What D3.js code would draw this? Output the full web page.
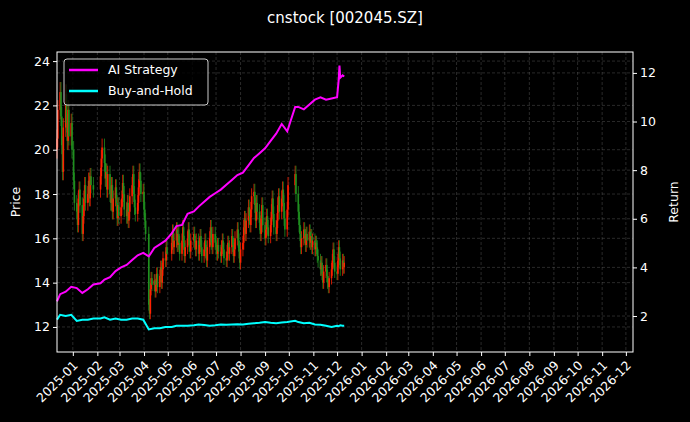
<!DOCTYPE html>
<html><head><meta charset="utf-8">
<script src="https://cdn.jsdelivr.net/npm/d3@7"></script>
<style>body{margin:0;background:#000}svg{display:block}text{font-family:"DejaVu Sans",sans-serif;fill:#fff}</style>
</head><body><svg id="c" width="690" height="422"></svg>
<script>
const title = "cnstock [002045.SZ]";
const startDate = "2024-12-12", endDate = "2025-12-10";
const holidays = ["2025-01-01","2025-01-28","2025-01-29","2025-01-30","2025-01-31","2025-02-03","2025-02-04","2025-04-04","2025-05-01","2025-05-02","2025-05-05","2025-06-02","2025-10-01","2025-10-02","2025-10-03","2025-10-06","2025-10-07","2025-10-08"];
const closes = [
20.5,21.8,
22.6,21.5,20.2,19.0,21.0, 22.5,21.2,20.4,21.8,20.6, 21.2,20.0,18.6,17.6,
17.2,16.6,17.8,18.2,17.5, 16.2,17.0,17.8,18.4,17.6, 18.0,18.6,17.8,18.8,18.4, 18.2,
18.8,19.6,20.1, 19.4,18.7,19.0,18.2,18.9, 18.0,17.6,18.4,17.2,17.8, 18.3,17.6,16.9,17.5,17.0,
17.4,17.8,18.5,18.0,17.3, 17.0,17.6,16.8,17.2,17.9, 18.4,18.9,18.0,17.4,17.1, 17.6,18.3,19.0,18.6,18.0,
18.1,17.3,16.8,16.2, 13.0,12.6,13.7,14.2,13.9, 14.1,13.6,13.9,14.4,13.8, 14.3,14.7,14.0,14.6,15.1, 15.0,15.6,15.3,
15.8,16.3,15.6,15.9, 16.4,15.7,16.2,15.8,15.3, 15.9,16.5,15.8,15.2,15.6, 16.0,16.4,15.7,15.4,15.9,
16.2,15.8,15.5,15.9, 15.3,15.7,16.1,15.6,15.2, 15.5,15.9,15.4,15.0,15.6, 16.0,16.5,15.8,15.6,16.2,
15.8,15.6,15.3,15.7,15.4, 15.2,15.6,15.9,15.5,15.1, 15.0,15.4,15.8,15.3,15.6, 16.1,15.7,15.2,15.5,16.0,
16.4,15.9,15.4,14.9,15.5, 15.8,16.5,16.9,16.2,16.8, 17.4,17.0,16.6,17.3,17.9, 18.1,17.5,16.8,17.6,17.2,
16.7,16.2,16.9,17.5,16.6, 16.0,16.4,17.0,16.5,16.1, 16.6,17.2,17.8,17.1,16.5, 16.2,16.8,17.5,17.9,17.2,
17.8,18.2,17.6,16.9,16.4, 17.3,18.4, 18.9,18.0,
17.2,16.6,16.2,15.6,16.0, 16.4,16.1,15.7,16.2,15.9, 16.3,15.8,16.1,15.6,15.9,
15.5,15.8,15.6,15.2,15.0, 14.6,14.9,14.4,14.0,14.5, 14.8,14.3,14.0,13.8,14.2, 14.6,15.0,15.5,14.9,14.5,
14.4,15.0,15.6,15.1,14.6, 15.0,14.7,14.9];
const firstOpen = 20.0;
const retDates = ["2024-12-12","2024-12-16","2024-12-23","2024-12-30","2025-01-06","2025-01-13","2025-01-20","2025-01-27","2025-02-05","2025-02-10","2025-02-17","2025-02-24","2025-03-03","2025-03-10","2025-03-17","2025-03-24","2025-03-31","2025-04-07","2025-04-14","2025-04-21","2025-04-28","2025-05-06","2025-05-12","2025-05-19","2025-05-26","2025-06-03","2025-06-09","2025-06-16","2025-06-23","2025-06-30","2025-07-07","2025-07-14","2025-07-21","2025-07-28","2025-08-04","2025-08-11","2025-08-18","2025-08-25","2025-09-01","2025-09-08","2025-09-15","2025-09-22","2025-09-29","2025-10-09","2025-10-13","2025-10-20","2025-10-27","2025-11-03","2025-11-10","2025-11-17","2025-11-24","2025-12-01","2025-12-03","2025-12-04","2025-12-05","2025-12-08","2025-12-10"];
const aiReturn = [2.6,2.9,3.0,3.2,3.15,2.95,3.1,3.3,3.35,3.5,3.6,3.85,4.0,4.1,4.3,4.5,4.6,4.45,4.8,4.95,5.1,5.4,5.7,5.75,6.2,6.3,6.5,6.7,6.9,7.05,7.2,7.4,7.6,7.8,7.9,8.2,8.5,8.7,8.9,9.2,9.5,9.9,9.6,10.6,10.6,10.5,10.7,10.9,11.0,10.9,10.95,11.0,11.7,12.3,11.8,11.9,11.85];
const bhReturn = [1.85,2.05,2.0,2.05,1.8,1.85,1.85,1.9,1.9,1.95,1.85,1.9,1.85,1.85,1.9,1.9,1.85,1.45,1.5,1.5,1.55,1.55,1.6,1.6,1.6,1.62,1.65,1.63,1.6,1.62,1.65,1.64,1.65,1.66,1.65,1.68,1.7,1.72,1.75,1.72,1.7,1.73,1.75,1.8,1.75,1.7,1.72,1.65,1.64,1.6,1.55,1.6,1.58,1.6,1.62,1.6,1.6];
const priceTicks = [12,14,16,18,20,22,24];
const returnTicks = [2,4,6,8,10,12];

const svg = d3.select("#c");
const m={l:57,r:633,t:52,b:352};
const P = d3.timeParse("%Y-%m-%d");
const x = d3.scaleTime().domain([P("2024-12-12"),P("2026-12-10")]).range([m.l,m.r]);
const y = d3.scaleLinear().domain([10.87,24.41]).range([m.b,m.t]);
const y2 = d3.scaleLinear().domain([0.52,12.86]).range([m.b,m.t]);
const months = d3.timeMonth.range(P("2025-01-01"),P("2026-12-02"));

const hs = new Set(holidays);
const days=[]; for(let d=P(startDate); d<=P(endDate); d=d3.timeDay.offset(d,1)){const w=d.getDay(); const k=d3.timeFormat("%Y-%m-%d")(d); if(w>0&&w<6&&!hs.has(k)) days.push(new Date(d));}
const n=Math.min(days.length,closes.length);
const candles=[]; for(let i=0;i<n;i++){const o=i?closes[i-1]:firstOpen,c=closes[i]; candles.push({d:days[i],o,c,h:Math.max(o,c)*1.02,l:Math.min(o,c)*0.98});}

const g=svg.append("g");
const gs={stroke:"#888","stroke-opacity":0.5,"stroke-dasharray":"3,2","stroke-width":0.6};
const sty=function(){for(const k in gs)d3.select(this).attr(k,gs[k]);};
g.selectAll(".vx").data(months).join("line").attr("x1",d=>x(d)).attr("x2",d=>x(d)).attr("y1",m.t).attr("y2",m.b).each(sty);
g.selectAll(".hy").data(priceTicks).join("line").attr("x1",m.l).attr("x2",m.r).attr("y1",d=>y(d)).attr("y2",d=>y(d)).each(sty);
g.selectAll(".hy2").data(returnTicks).join("line").attr("x1",m.l).attr("x2",m.r).attr("y1",d=>y2(d)).attr("y2",d=>y2(d)).each(sty);

const up="#ff2000", dn="#1f8f1f";
const cg=svg.append("g");
cg.selectAll("line").data(candles).join("line").attr("x1",d=>x(d.d)).attr("x2",d=>x(d.d)).attr("y1",d=>y(d.h)).attr("y2",d=>y(d.l)).attr("stroke",d=>d.c>=d.o?up:dn).attr("stroke-width",0.8);
cg.selectAll("rect").data(candles).join("rect").attr("x",d=>x(d.d)-0.8).attr("width",1.6).attr("y",d=>y(Math.max(d.o,d.c))).attr("height",d=>Math.max(0.8,Math.abs(y(d.o)-y(d.c)))).attr("fill",d=>d.c>=d.o?up:dn);

const line=d3.line().x((d,i)=>x(P(retDates[i]))).y(d=>y2(d));
svg.append("path").attr("d",line(bhReturn)).attr("fill","none").attr("stroke","#00ffff").attr("stroke-width",2);
svg.append("path").attr("d",line(aiReturn)).attr("fill","none").attr("stroke","#ff00ff").attr("stroke-width",2);

svg.append("rect").attr("x",m.l).attr("y",m.t).attr("width",m.r-m.l).attr("height",m.b-m.t).attr("fill","none").attr("stroke","#fff").attr("stroke-width",1);

const fs="12.5px";
const ax=svg.append("g").attr("transform",`translate(0,${m.b})`).call(d3.axisBottom(x).tickValues(months).tickFormat(d3.timeFormat("%Y-%m")).tickSize(4));
ax.selectAll("text").attr("transform","rotate(-45)").attr("text-anchor","end").attr("dx","-0.5em").attr("dy","0.55em").style("font-size",fs);
const ay=svg.append("g").attr("transform",`translate(${m.l},0)`).call(d3.axisLeft(y).tickValues(priceTicks).tickSize(4));
ay.selectAll("text").style("font-size",fs);
const ay2=svg.append("g").attr("transform",`translate(${m.r},0)`).call(d3.axisRight(y2).tickValues(returnTicks).tickSize(4));
ay2.selectAll("text").style("font-size",fs);
svg.selectAll(".domain").remove();
svg.selectAll(".tick line").attr("stroke","#fff");
svg.selectAll(".tick text").attr("fill","#fff");

svg.append("text").attr("x",16).attr("y",(m.t+m.b)/2).attr("transform",`rotate(-90,16,${(m.t+m.b)/2})`).attr("text-anchor","middle").attr("dy","0.35em").style("font-size",fs).text("Price");
svg.append("text").attr("x",674).attr("y",(m.t+m.b)/2).attr("transform",`rotate(-90,674,${(m.t+m.b)/2})`).attr("text-anchor","middle").attr("dy","0.35em").style("font-size",fs).text("Return");
svg.append("text").attr("x",345).attr("y",23).attr("text-anchor","middle").style("font-size","15px").text(title);

const lg=svg.append("g");
lg.append("rect").attr("x",64).attr("y",59).attr("width",144).attr("height",46).attr("rx",3).attr("fill","#000").attr("fill-opacity",0.8).attr("stroke","#ccc");
[["AI Strategy","#ff00ff"],["Buy-and-Hold","#00ffff"]].forEach((e,i)=>{
  const yy=70+i*21;
  lg.append("line").attr("x1",69).attr("x2",98).attr("y1",yy).attr("y2",yy).attr("stroke",e[1]).attr("stroke-width",2.5);
  lg.append("text").attr("x",108).attr("y",yy).attr("dy","0.35em").style("font-size",fs).text(e[0]);
});
</script></body></html>
